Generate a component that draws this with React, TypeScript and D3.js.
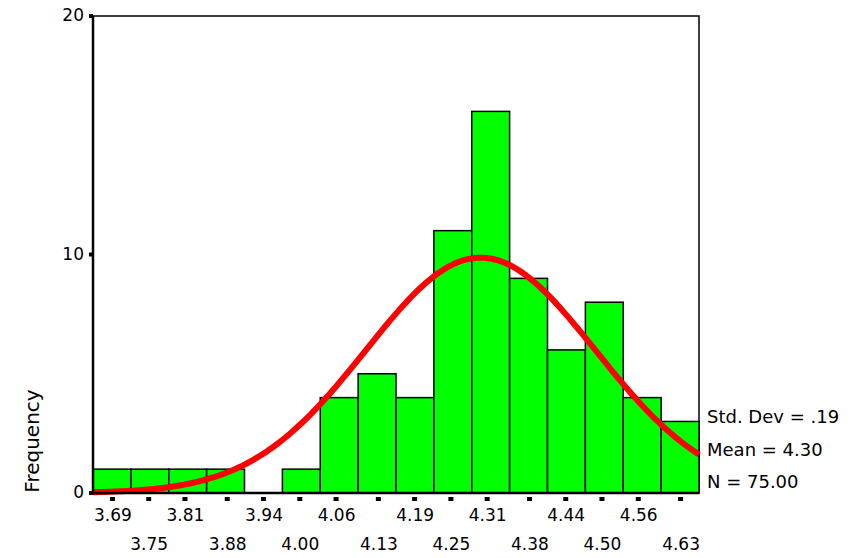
import { useEffect, useRef } from "react";
import * as d3 from "d3";

const binCenters = [3.69, 3.75, 3.81, 3.88, 3.94, 4.0, 4.06, 4.13, 4.19, 4.25, 4.31, 4.38, 4.44, 4.5, 4.56, 4.63];
const binLabels = ["3.69", "3.75", "3.81", "3.88", "3.94", "4.00", "4.06", "4.13", "4.19", "4.25", "4.31", "4.38", "4.44", "4.50", "4.56", "4.63"];
const counts = [1, 1, 1, 1, 0, 1, 4, 5, 4, 11, 16, 9, 6, 8, 4, 3];
const yTicks = [0, 10, 20];
const stats = { sd: 0.19, mean: 4.3, n: 75 };
const statLabels = ["Std. Dev = .19", "Mean = 4.30", "N = 75.00"];

const FONT = "Tahoma, 'DejaVu Sans', sans-serif";

export default function App() {
  const ref = useRef<SVGSVGElement>(null);

  useEffect(() => {
    if (!ref.current) return;
    const W = 860, H = 558;
    const L = 93, R = 699, T = 16, B = 493;
    const svg = d3.select(ref.current).attr("width", W).attr("height", H);
    svg.selectAll("*").remove();

    const w = (binCenters[binCenters.length - 1] - binCenters[0]) / (binCenters.length - 1);
    const x = d3.scaleLinear()
      .domain([binCenters[0] - w / 2, binCenters[binCenters.length - 1] + w / 2])
      .range([L, R]);
    const y = d3.scaleLinear().domain([0, 20]).range([B, T]);
    const xi = d3.scaleBand<number>().domain(d3.range(counts.length)).range([L, R]);

    // Frame
    svg.append("rect")
      .attr("x", L).attr("y", T).attr("width", R - L).attr("height", B - T)
      .attr("fill", "white").attr("stroke", "black").attr("stroke-width", 1.5);

    // Bars
    svg.selectAll("rect.bar")
      .data(counts.map((c, i) => ({ c, i })).filter(d => d.c > 0))
      .enter().append("rect")
      .attr("class", "bar")
      .attr("x", d => xi(d.i)!)
      .attr("width", xi.bandwidth())
      .attr("y", d => y(d.c))
      .attr("height", d => y(0) - y(d.c))
      .attr("fill", "#00FF00")
      .attr("stroke", "black")
      .attr("stroke-width", 1.5);

    // Normal curve
    const pts = d3.range(0, 201).map(k => {
      const v = x.domain()[0] + (x.domain()[1] - x.domain()[0]) * k / 200;
      const z = (v - stats.mean) / stats.sd;
      const f = stats.n * w * Math.exp(-0.5 * z * z) / (stats.sd * Math.sqrt(2 * Math.PI));
      return [v, f] as [number, number];
    });
    svg.append("path")
      .attr("d", d3.line<[number, number]>().x(d => x(d[0])).y(d => y(d[1]))(pts)!)
      .attr("fill", "none")
      .attr("stroke", "#FF0000")
      .attr("stroke-width", 6)
      .attr("stroke-linejoin", "round");

    // Axes lines
    svg.append("line").attr("x1", L).attr("x2", L).attr("y1", T).attr("y2", B + 1)
      .attr("stroke", "black").attr("stroke-width", 2.5);
    svg.append("line").attr("x1", L).attr("x2", R).attr("y1", B).attr("y2", B)
      .attr("stroke", "black").attr("stroke-width", 2.5);

    // Y ticks
    const yg = svg.append("g");
    yTicks.forEach(t => {
      yg.append("rect").attr("x", L - 4).attr("y", y(t) - 2).attr("width", 4).attr("height", 4).attr("fill", "black");
      yg.append("text").attr("x", L - 9).attr("y", y(t)).attr("dy", "0.3em")
        .attr("text-anchor", "end").attr("font-family", FONT).attr("font-size", 17)
        .text(String(t));
    });

    // X ticks
    const xg = svg.append("g");
    binCenters.forEach((c, i) => {
      xg.append("rect").attr("x", x(c) - 2).attr("y", B + 4).attr("width", 5).attr("height", 4).attr("fill", "black");
      xg.append("text")
        .attr("x", x(c) + 1)
        .attr("y", i % 2 === 0 ? 521 : 550)
        .attr("text-anchor", "middle").attr("font-family", FONT).attr("font-size", 17)
        .text(binLabels[i]);
    });

    // Y label
    svg.append("text")
      .attr("transform", `translate(39,441) rotate(-90)`)
      .attr("text-anchor", "middle").attr("font-family", FONT).attr("font-size", 20)
      .text("Frequency");

    // Stats
    statLabels.forEach((s, i) => {
      svg.append("text").attr("x", 707).attr("y", 423 + i * 32.5)
        .attr("font-family", FONT).attr("font-size", 18).text(s);
    });
  }, []);

  return (
    <div style={{ position: "absolute", left: 0, top: 0 }}>
      <svg ref={ref} style={{ display: "block" }} />
    </div>
  );
}
